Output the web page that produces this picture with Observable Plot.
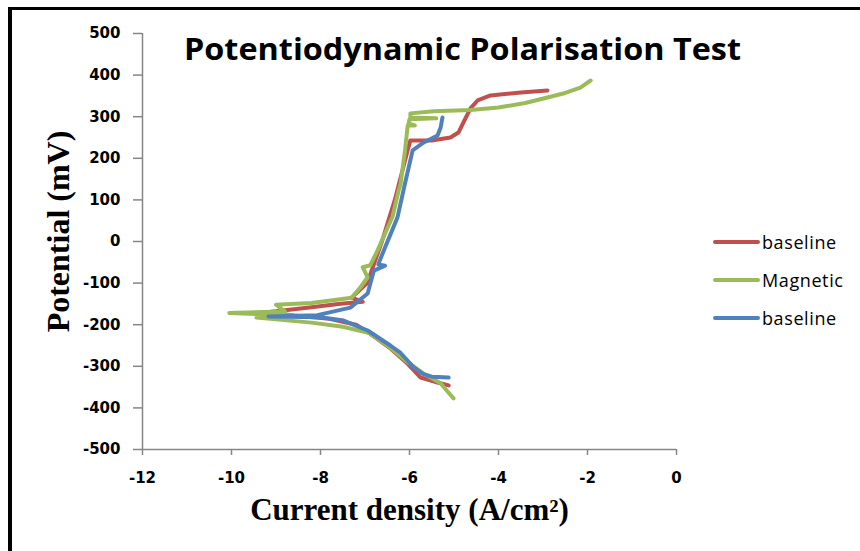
<!DOCTYPE html>
<html>
<head>
<meta charset="utf-8">
<script src="https://cdn.jsdelivr.net/npm/d3@7"></script>
<script src="https://cdn.jsdelivr.net/npm/@observablehq/plot@0.6"></script>
<style>
  body { margin: 0; background: #fff; }
  #chart { position: relative; width: 860px; height: 551px; overflow: hidden; background: #fff; }
  #chart svg { position: absolute; left: 0; top: 0; }
  #frame { position: absolute; left: 8px; top: 7px; width: 900px; height: 600px;
           border-top: 3px solid #000; border-left: 4px solid #000; pointer-events: none; }
  #legend { position: absolute; left: 713px; top: 223px; font-family: "Open Sans", sans-serif;
            font-size: 18px; letter-spacing: 0.6px; color: #000; }
  #legend .item { display: flex; align-items: center; height: 38px; }
  #legend .sw { width: 47px; height: 4px; border-radius: 2px; margin-right: 2px; }
</style>
</head>
<body>
<div id="chart"><div id="frame"></div></div>
<script>
// Polarisation curves: log current density (x) vs potential in mV (y), swept cathodic -> anodic
const baselineAX = [-5.12, -5.37, -5.75, -6.04, -6.43, -6.88, -7.2, -7.8, -8.6, -9.2, -8.2, -7.6, -7.05, -7.3,
                    -6.95, -6.62, -6.33, -6.16, -6.04, -5.98, -5.5, -5.08, -4.9, -4.79, -4.63, -4.47, -4.18, -3.5, -2.9];
const baselineAY = [-346, -339, -327, -294, -257, -222, -200, -186, -178, -170, -158, -150, -145, -135,
                    -100, 0, 100, 170, 220, 243, 243, 250, 262, 286, 320, 339, 351, 358, 363];

const magneticX = [-5.01, -5.15, -5.3, -5.69, -6.1, -6.5, -6.9, -7.5, -8.2, -9.44, -8.6, -10.05, -8.8, -9.0,
                   -8.2, -7.3, -7.1, -6.94, -7.05, -6.88, -6.72, -6.38, -6.25, -6.2, -6.1, -6.04, -5.88, -6.02,
                   -6.0, -5.4, -5.98, -5.98, -5.46, -4.63, -4.0, -3.4, -2.9, -2.5, -2.16, -1.93];
const magneticY = [-377, -360, -341, -317, -285, -250, -220, -205, -195, -183, -178, -172, -168, -152,
                   -148, -135, -110, -86, -62, -57, -22, 60, 120, 139, 220, 279, 279, 284,
                   294, 296, 298, 308, 313, 316, 322, 333, 346, 357, 370, 387];

const baselineBX = [-5.12, -5.5, -5.7, -5.9, -6.2, -6.43, -6.94, -7.48, -8.0, -9.17, -8.07, -7.33, -6.94,
                    -6.88, -6.8, -6.55, -6.7, -6.58, -6.27, -6.1, -5.93, -5.68, -5.37, -5.3, -5.26];
const baselineBY = [-327, -325, -318, -303, -268, -250, -214, -190, -182, -180, -177, -159, -125,
                    -101, -70, -58, -55, -22, 58, 140, 219, 238, 255, 274, 298];

const seriesNames = ["baseline", "Magnetic", "baseline"];
const seriesColors = ["#C0504D", "#9BBB59", "#4F81BD"];
const xTicks = [-12, -10, -8, -6, -4, -2, 0];
const yTicks = [-500, -400, -300, -200, -100, 0, 100, 200, 300, 400, 500];

const titleText = "Potentiodynamic Polarisation Test";
const xLabel = "Current density (A/cm²)";
const yLabel = "Potential (mV)";

const toPoints = (xs, ys) => xs.map((x, i) => ({x, y: ys[i]}));
const series = [
  toPoints(baselineAX, baselineAY),
  toPoints(magneticX, magneticY),
  toPoints(baselineBX, baselineBY)
];

const axisFont = {fontFamily: "DejaVu Sans", fontWeight: "bold", fontSize: 15};
const labelFont = {fontFamily: "Liberation Serif", fontWeight: "bold", fill: "#000", lineAnchor: "middle", textAnchor: "middle"};

const plot = Plot.plot({
  width: 860,
  height: 551,
  marginLeft: 142,
  marginRight: 184,
  marginTop: 33,
  marginBottom: 102,
  style: {background: "transparent", color: "#000", overflow: "visible"},
  x: {domain: [-12, 0]},
  y: {domain: [-500, 500]},
  marks: [
    Plot.axisY(yTicks, {tickSize: 9, tickPadding: 13, stroke: "#868686", strokeWidth: 1.5, fill: "#000",
                        tickFormat: d => String(d), label: null, ...axisFont}),
    Plot.axisX(xTicks, {tickSize: 6, tickPadding: 17, stroke: "#868686", strokeWidth: 1.5, fill: "#000",
                        tickFormat: d => String(d), label: null, ...axisFont}),
    Plot.ruleX([-12], {stroke: "#868686", strokeWidth: 1.5}),
    Plot.ruleY([-500], {stroke: "#868686", strokeWidth: 1.5}),
    ...series.map((pts, i) => Plot.line(pts, {
      x: "x", y: "y", stroke: seriesColors[i], strokeWidth: 4,
      strokeLinecap: "round", strokeLinejoin: "round"
    })),
    Plot.text([yLabel], {text: d => d, frameAnchor: "left", rotate: -90, dx: -84, dy: -10, fontSize: 32, ...labelFont}),
    Plot.text([xLabel], {text: d => d, frameAnchor: "bottom", dy: 61, fontSize: 31, ...labelFont}),
    Plot.text([titleText], {text: d => d, frameAnchor: "top", dx: 53, dy: 17, lineAnchor: "middle", textAnchor: "middle",
                            fontFamily: "Open Sans", fontWeight: "bold", fontSize: 31, fill: "#000"})
  ]
});

// stretch the title to its full width
d3.select(plot).selectAll("text").filter(function () { return this.textContent === titleText; })
  .attr("textLength", 557).attr("lengthAdjust", "spacingAndGlyphs");

const chart = document.getElementById("chart");
chart.insertBefore(plot, chart.firstChild);

// legend on the right
const legend = document.createElement("div");
legend.id = "legend";
seriesNames.forEach((name, i) => {
  const item = document.createElement("div");
  item.className = "item";
  const sw = document.createElement("span");
  sw.className = "sw";
  sw.style.background = seriesColors[i];
  const label = document.createElement("span");
  label.textContent = name;
  item.append(sw, label);
  legend.append(item);
});
chart.append(legend);
</script>
</body>
</html>
